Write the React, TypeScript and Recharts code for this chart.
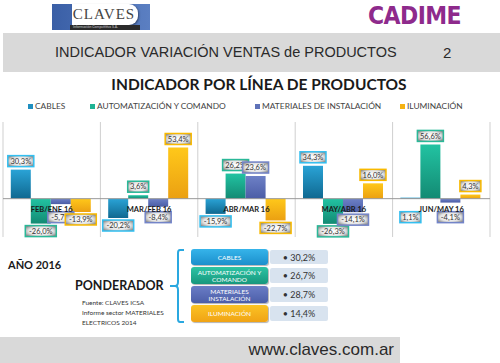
import React from 'react';
import { BarChart, Bar, XAxis, YAxis, ReferenceLine, LabelList } from 'recharts';

// periods (month over previous month)
const categories = ['FEB/ENE 16', 'MAR/FEB 16', 'ABR/MAR 16', 'MAY/ABR 16', 'JUN/MAY 16'];

// variación % por línea de productos
const cables = [30.3, -20.2, -15.9, 34.3, 1.1];
const automatizacion = [-26.0, 3.6, 26.2, -26.3, 56.6];
const materiales = [-5.7, -8.4, 23.6, -14.1, -4.1];
const iluminacion = [-13.9, 53.4, -22.7, 16.0, 4.3];

const seriesNames = ['CABLES', 'AUTOMATIZACIÓN Y COMANDO', 'MATERIALES DE INSTALACIÓN', 'ILUMINACIÓN'];

// ponderador table
const pondLabels = ['CABLES', 'AUTOMATIZACIÓN Y COMANDO', 'MATERIALES INSTALACIÓN', 'ILUMINACIÓN'];
const pondValues = [30.2, 26.7, 28.7, 14.4];

const fuente = ['Fuente: CLAVES ICSA', 'Informe sector MATERIALES', 'ELECTRICOS 2014'];

const series = [
  { key: 'cables', top: '#2aa3d6', bottom: '#0f6890', border: '#33bff0', legend: '#1f8fc0' },
  { key: 'automatizacion', top: '#22c3a2', bottom: '#138a73', border: '#2ab898', legend: '#1fb394' },
  { key: 'materiales', top: '#6d80c6', bottom: '#4b5da6', border: '#7384c8', legend: '#5f72b8' },
  { key: 'iluminacion', top: '#ffc81a', bottom: '#eba012', border: '#f8b900', legend: '#f5b211' },
];

const data = categories.map((cat, i) => ({
  cat,
  cables: cables[i],
  automatizacion: automatizacion[i],
  materiales: materiales[i],
  iluminacion: iluminacion[i],
}));

const fmt = (v: number) => v.toFixed(1).replace('.', ',') + '%';

const FONT = 'Lato, "Liberation Sans", sans-serif';

const makeLabel = (color: string) => (props: any) => {
  const { x, y, width, height, value } = props;
  const top = Math.min(y, y + height);
  const bottom = Math.max(y, y + height);
  const zeroY = value < 0 ? top : bottom;
  const text = fmt(value);
  const w = text.length * 5 + 1;
  const h = 11;
  const cx = x + width / 2;
  const by = value >= 2 ? top - 3 - h : Math.max(bottom + 2, zeroY + 13);
  return (
    <g>
      <rect x={cx - w / 2} y={by} width={w} height={h} fill="url(#lblBg)" stroke={color} strokeWidth={1.5} />
      <text x={cx} y={by + h / 2 + 2.7} textAnchor="middle" fontSize={7.5} fill="#333" fontFamily={FONT}>
        {text}
      </text>
    </g>
  );
};

const CatTick = (props: any) => {
  const { x, y, payload } = props;
  return (
    <text x={x} y={y - 25} textAnchor="middle" fontSize={7.5} fontWeight="bold" fill="#1a1a1a" fontFamily={FONT}>
      {payload.value}
    </text>
  );
};

const legendLeft = [28, 90, 255, 400];
const pondColors = [
  ['#36b4ea', '#1b8fcc'],
  ['#2cc4a4', '#17977d'],
  ['#6a7dc6', '#4c5ea8'],
  ['#fbc324', '#f0a315'],
];

export default function App() {
  return (
    <div style={{ position: 'absolute', left: 0, top: 0, width: 500, height: 363, background: '#fff', overflow: 'hidden', fontFamily: FONT }}>
      {/* CLAVES logo */}
      <div style={{ position: 'absolute', left: 52, top: 4, width: 98, height: 26, background: 'linear-gradient(90deg,#3a5fa6,#5b7fc2)' }} />
      <div style={{ position: 'absolute', left: 72, top: 4, width: 66, height: 21, background: '#fff', borderRadius: '0 9px 9px 0', boxShadow: '1px 1px 2px rgba(0,0,0,0.4)' }} />
      <div style={{ position: 'absolute', left: 72, top: 6, width: 64, textAlign: 'center', fontFamily: '"Liberation Serif", serif', fontSize: 15, color: '#444', letterSpacing: 1 }}>CLAVES</div>
      <div style={{ position: 'absolute', left: 70, top: 25, width: 70, height: 5, background: '#2b2b2b', color: '#ccc', fontSize: 3.5, lineHeight: '5px', paddingLeft: 3, boxSizing: 'border-box' }}>Información Competitiva S.A.</div>

      {/* CADIME logo */}
      <div style={{ position: 'absolute', left: 368, top: 2, fontFamily: '"DejaVu Sans", sans-serif', fontWeight: 'bold', fontSize: 22, color: '#8e2a8c', letterSpacing: -0.6, transform: 'scaleY(1.12)', transformOrigin: 'top' }}>CADIME</div>

      {/* title band */}
      <div style={{ position: 'absolute', left: 3, top: 33, width: 497, height: 39, background: '#d9d9d9' }} />
      <div style={{ position: 'absolute', left: 55, top: 44, fontSize: 14.5, color: '#2a2a2a', fontFamily: '"Liberation Sans", sans-serif', whiteSpace: 'nowrap' }}>
        INDICADOR VARIACIÓN VENTAS de PRODUCTOS
      </div>
      <div style={{ position: 'absolute', left: 443, top: 44, fontSize: 15, color: '#2a2a2a', fontFamily: '"Liberation Sans", sans-serif' }}>2</div>

      <div style={{ position: 'absolute', left: 0, width: 518, top: 75, textAlign: 'center', fontSize: 15.5, fontWeight: 'bold', color: '#1a1a1a', whiteSpace: 'nowrap' }}>
        INDICADOR POR LÍNEA DE PRODUCTOS
      </div>

      {/* legend */}
      {seriesNames.map((n, i) => (
        <div key={n} style={{ position: 'absolute', left: legendLeft[i], top: 101, fontSize: 8.4, color: '#444', whiteSpace: 'nowrap', display: 'flex', alignItems: 'center' }}>
          <span style={{ display: 'inline-block', width: 5, height: 5, background: series[i].legend, marginRight: 2 }} />
          {n}
        </div>
      ))}

      <div style={{ position: 'absolute', left: 0, top: 0 }}>
        <BarChart width={500} height={363} data={data} margin={{ top: 122, left: 3, right: 10, bottom: 106 }} barCategoryGap="8%" barGap={0}>
          <defs>
            {series.map((s) => (
              <linearGradient key={s.key} id={'g-' + s.key} x1="0" y1="0" x2="0" y2="1">
                <stop offset="0%" stopColor={s.top} />
                <stop offset="100%" stopColor={s.bottom} />
              </linearGradient>
            ))}
            <radialGradient id="lblBg" cx="50%" cy="50%" r="60%">
              <stop offset="0%" stopColor="#ffffff" />
              <stop offset="65%" stopColor="#e4e4e4" />
              <stop offset="100%" stopColor="#8e8e8e" />
            </radialGradient>
          </defs>
          <YAxis domain={[-40, 80]} hide allowDataOverflow />
          {categories.map((c) => (
            <ReferenceLine key={c} x={c} position="start" stroke="#cfcfcf" strokeWidth={1} />
          ))}
          <ReferenceLine x={categories[categories.length - 1]} position="end" stroke="#cfcfcf" strokeWidth={1} />
          <ReferenceLine y={0} stroke="#9a9a9a" strokeWidth={1} />
          {series.map((s) => (
            <Bar key={s.key} dataKey={s.key} fill={`url(#g-${s.key})`} isAnimationActive={false}>
              <LabelList dataKey={s.key} content={makeLabel(s.border)} />
            </Bar>
          ))}
          <XAxis dataKey="cat" height={20} axisLine={false} tickLine={false} tickSize={0} tickMargin={0} tick={<CatTick />} interval={0} />
        </BarChart>
      </div>

      {/* bottom block */}
      <div style={{ position: 'absolute', left: 8, top: 258, fontSize: 11, fontWeight: 'bold', color: '#1a1a1a' }}>AÑO 2016</div>
      <div style={{ position: 'absolute', left: 75, top: 278, fontSize: 12.5, fontWeight: 'bold', color: '#1a1a1a' }}>PONDERADOR</div>
      {fuente.map((t, i) => (
        <div key={t} style={{ position: 'absolute', left: 82, top: 299 + i * 10, fontSize: 6.5, color: '#333', whiteSpace: 'nowrap' }}>{t}</div>
      ))}
      <svg style={{ position: 'absolute', left: 0, top: 0 }} width={500} height={363}>
        <line x1={170} y1={286} x2={177} y2={286} stroke="#2aa8e0" strokeWidth={2} />
        <path d="M184,250 L180,250 Q178,250 178,253 L178,282 Q178,286 175,286 Q178,286 178,290 L178,319 Q178,322 180,322 L184,322" fill="none" stroke="#2aa8e0" strokeWidth={2} />
      </svg>
      {pondLabels.map((l, i) => {
        const tops = [249, 267, 286, 305];
        const hs = [16, 17, 17, 17];
        return (
          <React.Fragment key={l}>
            <div style={{ position: 'absolute', left: 191, top: tops[i], width: 77, height: hs[i], borderRadius: 3, background: `linear-gradient(180deg,${pondColors[i][0]},${pondColors[i][1]})`, color: '#fff', fontSize: 6.5, lineHeight: '7px', textAlign: 'center', display: 'flex', alignItems: 'center', justifyContent: 'center', boxShadow: '1px 1px 1px rgba(0,0,0,0.3)' }}>
              {l}
            </div>
            <div style={{ position: 'absolute', left: 270, top: tops[i] + 1, width: 58, height: hs[i] - 2, borderRadius: 2, background: '#d8e3ef', color: '#333', fontSize: 9, display: 'flex', alignItems: 'center', justifyContent: 'center' }}>
              • {fmt(pondValues[i])}
            </div>
          </React.Fragment>
        );
      })}

      {/* footer */}
      <div style={{ position: 'absolute', left: 0, top: 337, width: 400, height: 26, background: '#d9d9d9' }} />
      <div style={{ position: 'absolute', left: 0, top: 340, width: 394, textAlign: 'right', fontSize: 17, color: '#2a2a2a', fontFamily: '"Liberation Sans", sans-serif' }}>www.claves.com.ar</div>
    </div>
  );
}
